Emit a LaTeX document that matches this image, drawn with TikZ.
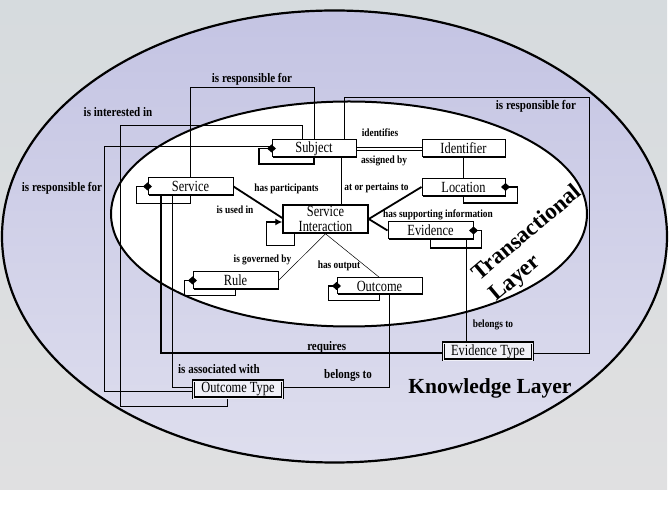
\documentclass[tikz,border=0pt]{standalone}
\usepackage{fontspec}
\setmainfont{Liberation Serif}
\newfontfamily\boxfont[FakeStretch=0.8]{Liberation Serif}
\newfontfamily\lblfont[FakeStretch=0.85]{Liberation Serif}
\usetikzlibrary{arrows.meta,shadows}
\definecolor{bgtop}{RGB}{214,219,222}
\definecolor{bgbot}{RGB}{224,224,225}
\definecolor{lavtop}{RGB}{196,196,227}
\definecolor{lavbot}{RGB}{222,222,238}
\begin{document}
\begin{tikzpicture}[x=1pt,y=-1pt,
  box/.style={draw, line width=1pt, fill=white, minimum height=17pt, inner sep=0pt,
    font=\boxfont\fontsize{15.5}{14.5}\selectfont,
    drop shadow={shadow xshift=1.3pt, shadow yshift=-1.3pt, fill=black, opacity=1}},
  typebox/.style={draw, line width=1.1pt, double=white!55!lavbot, double distance=0.8pt,
    fill=white!55!lavbot, minimum width=89pt, minimum height=17pt, inner sep=0pt,
    font=\boxfont\fontsize{15.5}{14.5}\selectfont},
  lblT/.style={font=\lblfont\bfseries\fontsize{11}{12}\selectfont, inner sep=0pt},
  lblK/.style={font=\lblfont\bfseries\fontsize{13}{14}\selectfont, inner sep=0pt},
  conn/.style={line width=0.8pt},
  thk/.style={line width=1.8pt},
  thn/.style={line width=0.5pt},
  agg/.style={line width=1.4pt, {Diamond[length=9pt,width=8pt]}-, shorten <=-4.5pt},
  siloop/.style={line width=1.2pt, {Latex[length=7pt,width=7pt]}-}]
\useasboundingbox (0,0) rectangle (670,518);
% background
\shade[top color=bgtop, bottom color=bgbot] (0,0) rectangle (667,490);
\draw[line width=2.2pt, top color=lavtop, bottom color=lavbot] (334.5,236.5) ellipse [x radius=332.5, y radius=226];
\draw[line width=2pt, fill=white] (349,214) ellipse [x radius=238, y radius=112.5];
% nodes
\node[box, minimum width=84pt] (subj) at (314,148.5) {Subject};
\node[box, minimum width=83pt] (ident) at (463.5,148.5) {Identifier};
\node[box, minimum width=85pt] (serv) at (190.5,186.5) {Service};
\node[box, minimum width=83pt] (loc) at (463.5,187) {Location};
\node[box, minimum width=85pt, minimum height=28pt, align=center, line width=1.5pt] (si) at (325.5,219) {Service\\Interaction};
\node[box, minimum width=85pt] (evid) at (430.5,230.5) {Evidence};
\node[box, minimum width=85pt] (rule) at (235.5,280.5) {Rule};
\node[box, minimum width=85pt, minimum height=16pt] (outc) at (379.5,286) {Outcome};
\node[typebox] (evt) at (488,351.5) {Evidence Type};
\node[typebox] (outt) at (238,389.5) {Outcome Type};
% helper coordinates
\coordinate (ya) at (0,87.3);
\coordinate (ii1) at (120.7,125.7);
\coordinate (ii2) at (227.7,406);
\coordinate (lr) at (104,391.7);
\coordinate (xv) at (341,0);
\coordinate (rr) at (589,97.7);
\coordinate (xs) at (344,0);
\coordinate (eb) at ([xshift=36pt]evid.south);
% connectors
\draw[conn] (serv.north) |- (subj.north |- ya) -- (subj.north);
\draw[conn] ([xshift=-11.7pt]subj.north) |- (ii1) |- (ii2) -- (ii2 |- outt.south);
\draw[conn] ([yshift=2pt]subj.west) -| (lr) -- (lr -| outt.west);
\draw[conn] (subj.south -| xv) -- (si.north -| xv);
\draw[conn] ([yshift=1.5pt]subj.east) -- ([yshift=1.5pt]ident.west);
\draw[conn] ([yshift=-1.5pt]subj.east) -- ([yshift=-1.5pt]ident.west);
\draw[conn] (ident.south) -- (loc.north);
\draw[thk] (serv.east) -- ([yshift=1pt]si.west);
\draw[thk] (loc.west) -- (si.east);
\draw[thk] (si.east) -- (evid.west);
\draw[thn] (si.south) -- (rule.east);
\draw[thn] (si.south) -- (outc.north);
\draw[thk] ([xshift=-29.5pt]serv.south) |- ([yshift=-1.5pt]evt.west);
\draw[conn] ([yshift=-1.5pt]evt.east) -| (rr) -| (subj.north -| xs);
\draw[conn] ([xshift=-18.2pt]serv.south) |- ([yshift=2pt]outt.west);
\draw[conn] ([xshift=10pt]outc.south) |- ([yshift=2pt]outt.east);
\draw[conn] (eb) -- (eb |- evt.north);
% self loops
\draw[agg] (subj.west) -- ++(-12.5,0) |- ([yshift=-6.5pt]subj.south) -- (subj.south);
\draw[agg] (serv.west) -- ++(-11,0) |- ([yshift=-8pt]serv.south) -- (serv.south);
\draw[agg] (loc.east) -- ++(12,0) |- ([yshift=-7pt]loc.south) -- (loc.south);
\draw[agg] (evid.east) -- ++(8,0) |- ([yshift=-8.5pt]evid.south) -- (evid.south);
\draw[agg] (rule.west) -- ++(-8,0) |- ([yshift=-6pt]rule.south) -- (rule.south);
\draw[agg] (outc.west) -- ++(-8,0) |- ([yshift=-6pt]outc.south) -- (outc.south);
\draw[siloop] ([yshift=-3pt]si.west) -- ++(-16,0) |- ([xshift=-31pt,yshift=-12pt]si.south) -- ([xshift=-31pt]si.south);
% labels
\node[lblK] (tl1) at (252,79) {is responsible for};
\node[lblK] (tl2) at (118,112) {is interested in};
\node[lblK] (tl3) at (62,188.5) {is responsible for};
\node[lblK] (tl4) at (536,106.5) {is responsible for};
\node[lblT] (tl5) at (380,133) {identifies};
\node[lblT] (tl6) at (384,161) {assigned by};
\node[lblT] (tl7) at (286.5,188.5) {has participants};
\node[lblT] (tl8) at (376.5,188) {at or pertains to};
\node[lblT] (tl9) at (235,210) {is used in};
\node[lblT] (tl10) at (438,215) {has supporting information};
\node[lblT] (tl11) at (262.5,260) {is governed by};
\node[lblT] (tl12) at (339,266) {has output};
\node[lblT] (tl13) at (493,325) {belongs to};
\node[lblK] (tl14) at (326.7,347.3) {requires};
\node[lblK] (tl15) at (219,369.3) {is associated with};
\node[lblK] (tl16) at (348,375) {belongs to};
\node[font=\bfseries\fontsize{21.5}{22}\selectfont, inner sep=0pt] (kl) at (490,388) {Knowledge Layer};
\node[font=\bfseries\fontsize{23}{27}\selectfont, inner sep=0pt, rotate=40, align=left] (trl) at (536,244) {Transactional\\Layer};
\end{tikzpicture}
\end{document}
